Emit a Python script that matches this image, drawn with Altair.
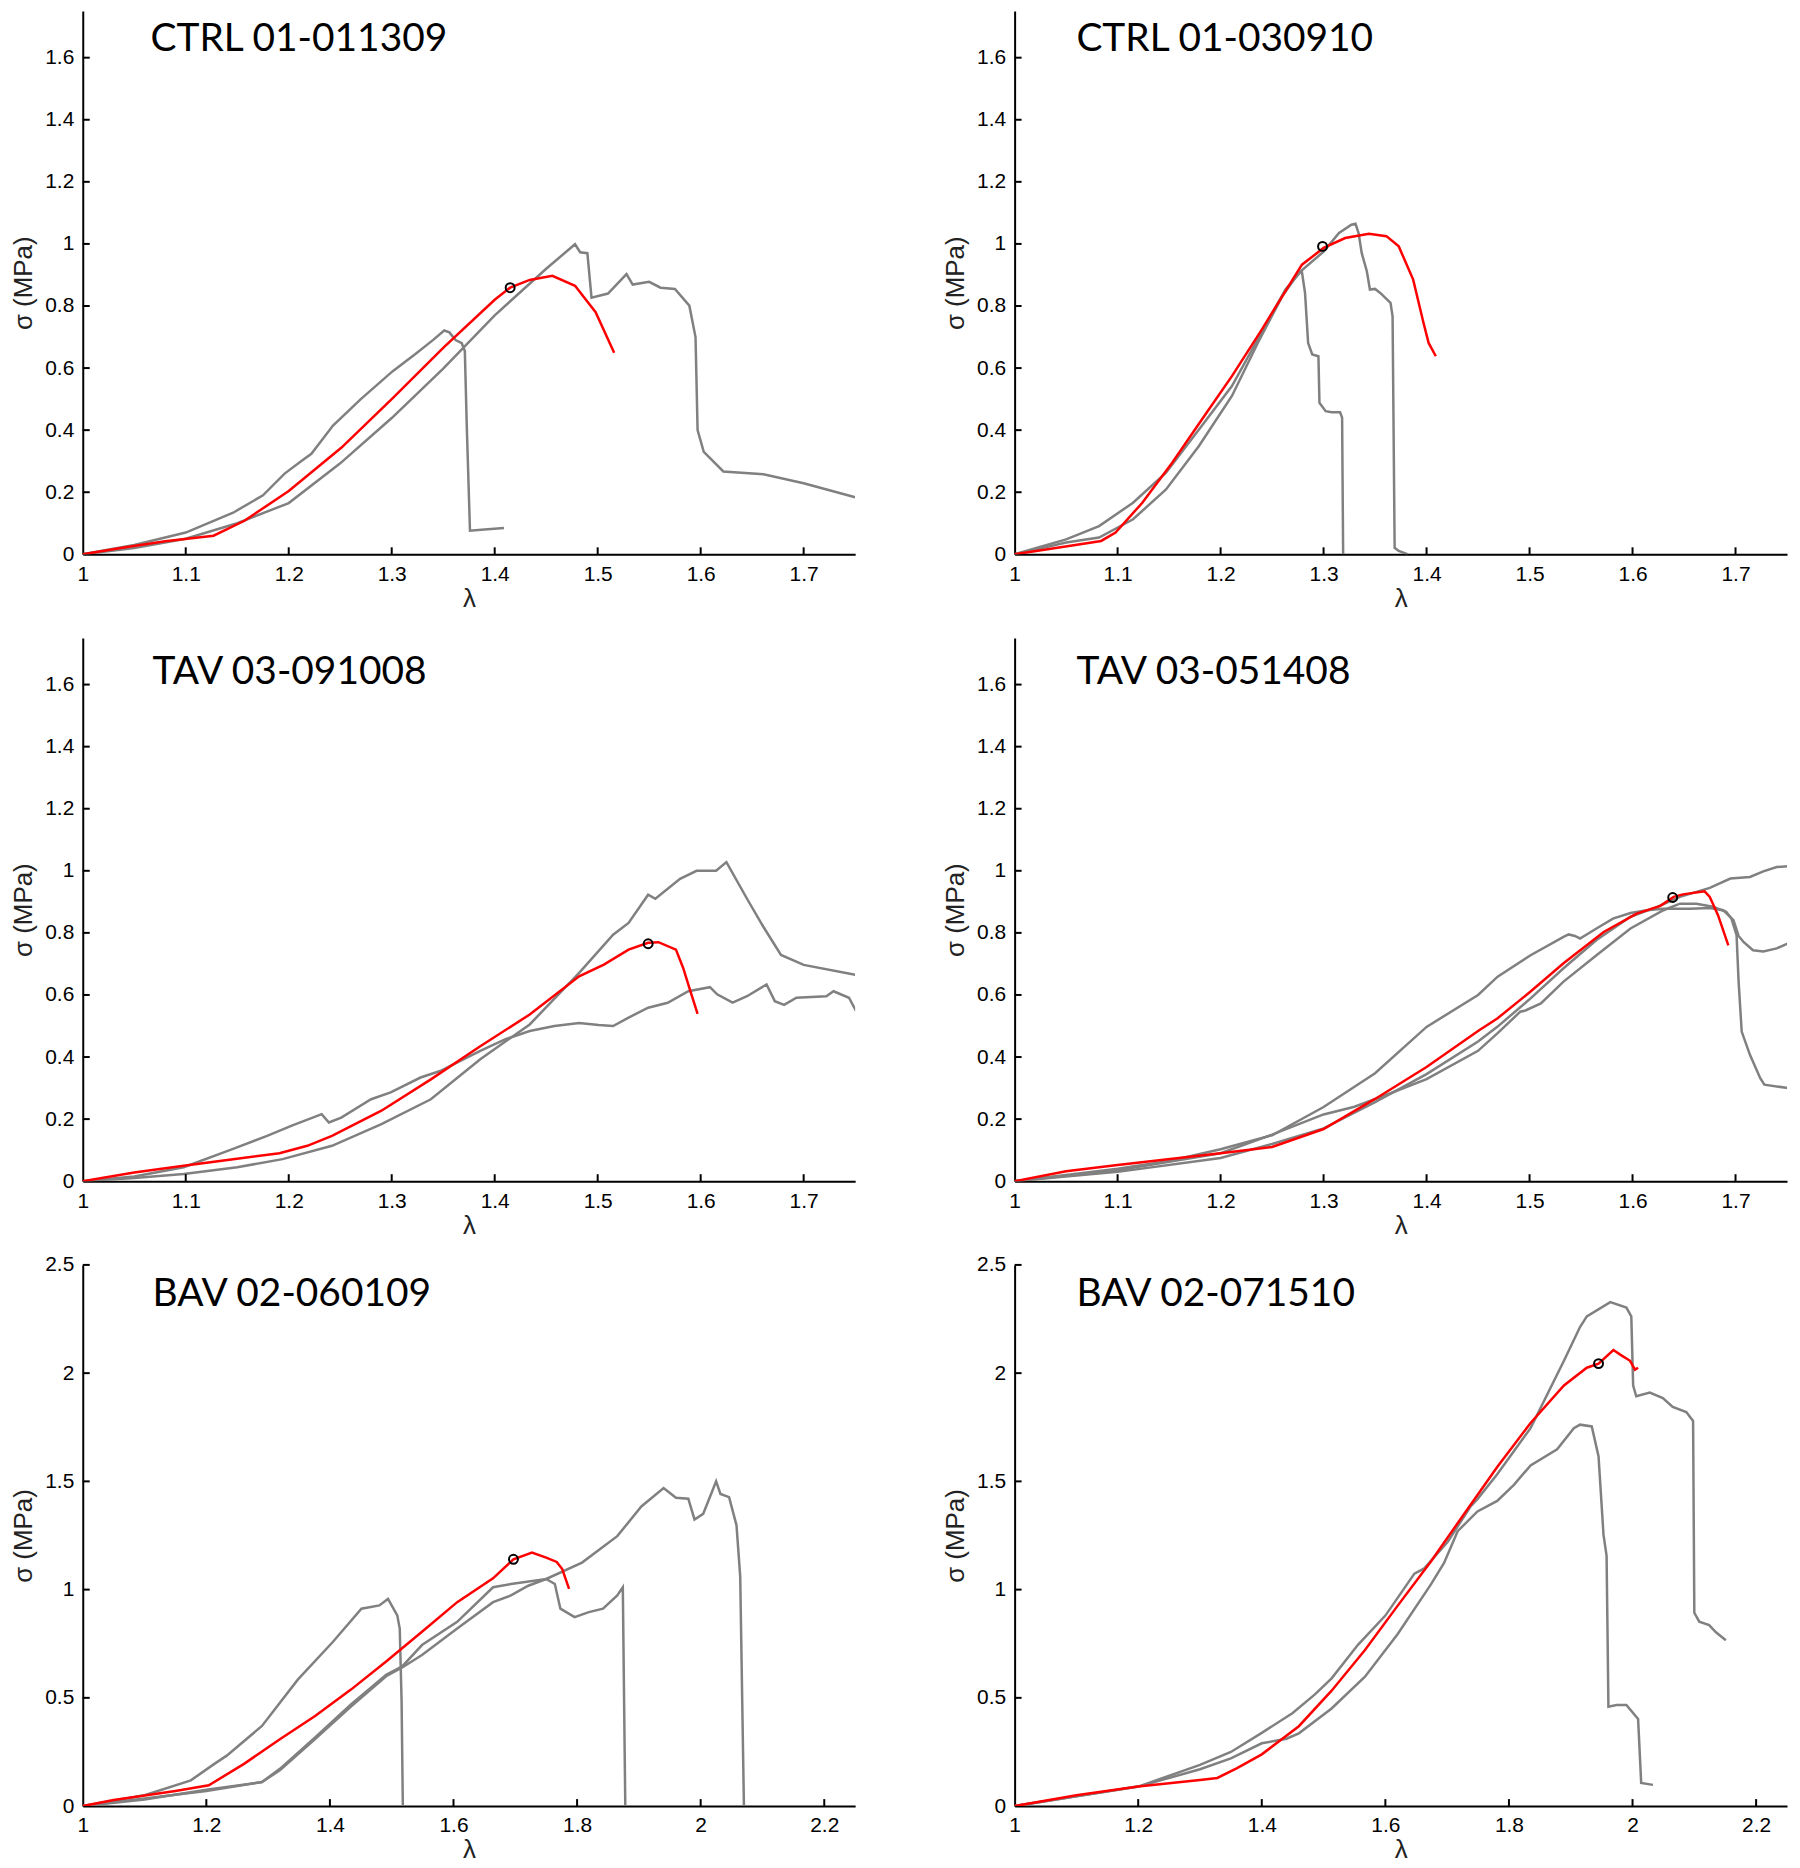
import altair as alt
import pandas as pd

# ---------------- data ----------------
TITLES = ["CTRL 01-011309", "CTRL 01-030910", "TAV 03-091008",
          "TAV 03-051408", "BAV 02-060109", "BAV 02-071510"]

X_TICKS_A = [1.0, 1.1, 1.2, 1.3, 1.4, 1.5, 1.6, 1.7]
Y_TICKS_A = [0.0, 0.2, 0.4, 0.6, 0.8, 1.0, 1.2, 1.4, 1.6]
X_TICKS_B = [1.0, 1.2, 1.4, 1.6, 1.8, 2.0, 2.2]
Y_TICKS_B = [0.0, 0.5, 1.0, 1.5, 2.0, 2.5]

# Panel 1: CTRL 01-011309
P1_RED_X = [1.0, 1.04, 1.08, 1.127, 1.157, 1.2, 1.251, 1.301, 1.351, 1.40, 1.415, 1.434, 1.456, 1.478, 1.498, 1.516]
P1_RED_Y = [0.0, 0.022, 0.042, 0.06, 0.108, 0.204, 0.343, 0.503, 0.668, 0.82, 0.859, 0.884, 0.897, 0.865, 0.78, 0.649]
P1_PT = [1.415, 0.859]
P1_G1_X = [1.0, 1.05, 1.1, 1.146, 1.175, 1.196, 1.212, 1.222, 1.243, 1.27, 1.301, 1.323, 1.34, 1.351, 1.356, 1.362, 1.368, 1.371, 1.373, 1.376, 1.39, 1.409]
P1_G1_Y = [0.0, 0.03, 0.07, 0.134, 0.19, 0.26, 0.30, 0.324, 0.415, 0.50, 0.59, 0.645, 0.69, 0.721, 0.715, 0.69, 0.68, 0.655, 0.40, 0.076, 0.08, 0.085]
P1_G2_X = [1.0, 1.05, 1.1, 1.15, 1.2, 1.25, 1.3, 1.35, 1.4, 1.45, 1.478, 1.483, 1.49, 1.494, 1.51, 1.528, 1.534, 1.55, 1.561, 1.575, 1.589, 1.595, 1.597, 1.603, 1.622, 1.661, 1.7, 1.75]
P1_G2_Y = [0.0, 0.02, 0.05, 0.10, 0.165, 0.293, 0.439, 0.598, 0.77, 0.92, 0.999, 0.973, 0.97, 0.827, 0.84, 0.903, 0.869, 0.878, 0.859, 0.855, 0.801, 0.70, 0.40, 0.33, 0.267, 0.258, 0.229, 0.184]

# Panel 2: CTRL 01-030910
P2_RED_X = [1.0, 1.04, 1.084, 1.098, 1.124, 1.153, 1.182, 1.211, 1.24, 1.26, 1.279, 1.3, 1.321, 1.344, 1.361, 1.373, 1.387, 1.397, 1.402, 1.409]
P2_RED_Y = [0.0, 0.02, 0.043, 0.07, 0.166, 0.295, 0.435, 0.574, 0.724, 0.832, 0.933, 0.987, 1.019, 1.033, 1.025, 0.992, 0.885, 0.746, 0.681, 0.638]
P2_PT = [1.299, 0.992]
P2_G1_X = [1.0, 1.05, 1.082, 1.115, 1.147, 1.179, 1.211, 1.244, 1.263, 1.277, 1.279, 1.282, 1.285, 1.289, 1.295, 1.296, 1.302, 1.308, 1.316, 1.318, 1.319]
P2_G1_Y = [0.0, 0.048, 0.091, 0.166, 0.263, 0.402, 0.542, 0.74, 0.853, 0.907, 0.909, 0.842, 0.681, 0.644, 0.638, 0.488, 0.461, 0.458, 0.458, 0.44, 0.0]
P2_G2_X = [1.0, 1.05, 1.082, 1.115, 1.147, 1.179, 1.211, 1.236, 1.26, 1.276, 1.3, 1.315, 1.327, 1.331, 1.334, 1.337, 1.342, 1.345, 1.35, 1.355, 1.365, 1.367, 1.369, 1.373, 1.382]
P2_G2_Y = [0.0, 0.038, 0.054, 0.113, 0.209, 0.349, 0.51, 0.68, 0.832, 0.907, 0.975, 1.035, 1.062, 1.065, 1.035, 0.971, 0.912, 0.853, 0.855, 0.842, 0.81, 0.767, 0.021, 0.011, 0.0]

# Panel 3: TAV 03-091008
P3_RED_X = [1.0, 1.05, 1.098, 1.146, 1.191, 1.218, 1.242, 1.29, 1.338, 1.386, 1.434, 1.482, 1.506, 1.53, 1.549, 1.559, 1.576, 1.583, 1.59, 1.597]
P3_RED_Y = [0.0, 0.028, 0.05, 0.071, 0.09, 0.114, 0.146, 0.227, 0.328, 0.435, 0.537, 0.66, 0.698, 0.746, 0.768, 0.77, 0.746, 0.687, 0.612, 0.539]
P3_PT = [1.549, 0.765]
P3_G1_X = [1.0, 1.05, 1.098, 1.146, 1.179, 1.203, 1.232, 1.239, 1.251, 1.28, 1.299, 1.328, 1.347, 1.386, 1.41, 1.434, 1.458, 1.482, 1.501, 1.515, 1.53, 1.549, 1.568, 1.588, 1.609, 1.616, 1.631, 1.645, 1.664, 1.672, 1.681, 1.693, 1.722, 1.729, 1.744, 1.751]
P3_G1_Y = [0.0, 0.015, 0.045, 0.104, 0.146, 0.179, 0.216, 0.189, 0.205, 0.264, 0.286, 0.334, 0.355, 0.42, 0.457, 0.484, 0.5, 0.51, 0.503, 0.5, 0.527, 0.559, 0.575, 0.612, 0.625, 0.602, 0.575, 0.596, 0.634, 0.58, 0.568, 0.591, 0.596, 0.612, 0.591, 0.548]
P3_G2_X = [1.0, 1.05, 1.098, 1.15, 1.194, 1.242, 1.29, 1.338, 1.386, 1.434, 1.482, 1.515, 1.53, 1.549, 1.556, 1.58, 1.596, 1.615, 1.625, 1.645, 1.661, 1.678, 1.7, 1.75]
P3_G2_Y = [0.0, 0.01, 0.023, 0.045, 0.071, 0.114, 0.184, 0.264, 0.393, 0.505, 0.671, 0.794, 0.832, 0.923, 0.91, 0.974, 1.0, 1.0, 1.028, 0.91, 0.819, 0.729, 0.697, 0.665]

# Panel 4: TAV 03-051408
P4_RED_X = [1.0, 1.05, 1.1, 1.2, 1.25, 1.3, 1.35, 1.4, 1.45, 1.469, 1.501, 1.533, 1.572, 1.604, 1.627, 1.64, 1.649, 1.67, 1.675, 1.683, 1.693]
P4_RED_Y = [0.0, 0.032, 0.052, 0.09, 0.11, 0.168, 0.265, 0.368, 0.484, 0.525, 0.611, 0.702, 0.803, 0.862, 0.887, 0.916, 0.924, 0.934, 0.916, 0.857, 0.76]
P4_PT = [1.639, 0.914]
P4_G1_X = [1.0, 1.1, 1.15, 1.2, 1.25, 1.3, 1.35, 1.4, 1.45, 1.469, 1.501, 1.533, 1.538, 1.544, 1.549, 1.565, 1.581, 1.598, 1.614, 1.63, 1.656, 1.675, 1.688, 1.698, 1.703, 1.708, 1.717, 1.727, 1.74, 1.751]
P4_G1_Y = [0.0, 0.04, 0.065, 0.103, 0.148, 0.239, 0.348, 0.497, 0.6, 0.659, 0.728, 0.787, 0.795, 0.79, 0.782, 0.814, 0.846, 0.864, 0.873, 0.878, 0.878, 0.88, 0.873, 0.841, 0.79, 0.77, 0.744, 0.74, 0.75, 0.766]
P4_G2_X = [1.0, 1.1, 1.2, 1.25, 1.3, 1.35, 1.4, 1.45, 1.469, 1.501, 1.533, 1.565, 1.598, 1.624, 1.646, 1.662, 1.675, 1.695, 1.714, 1.727, 1.74, 1.751]
P4_G2_Y = [0.0, 0.03, 0.075, 0.12, 0.17, 0.255, 0.345, 0.45, 0.498, 0.589, 0.686, 0.777, 0.852, 0.884, 0.916, 0.932, 0.945, 0.975, 0.98, 0.998, 1.012, 1.015]
P4_G3_X = [1.0, 1.1, 1.2, 1.25, 1.3, 1.33, 1.36, 1.4, 1.45, 1.469, 1.491, 1.496, 1.511, 1.533, 1.565, 1.598, 1.63, 1.646, 1.662, 1.678, 1.691, 1.696, 1.701, 1.703, 1.706, 1.714, 1.724, 1.728, 1.751]
P4_G3_Y = [0.0, 0.035, 0.09, 0.15, 0.215, 0.24, 0.277, 0.329, 0.42, 0.477, 0.546, 0.55, 0.573, 0.643, 0.728, 0.814, 0.873, 0.894, 0.894, 0.884, 0.868, 0.846, 0.793, 0.643, 0.482, 0.407, 0.332, 0.311, 0.3]

# Panel 5: BAV 02-060109
P5_RED_X = [1.0, 1.05, 1.1, 1.15, 1.204, 1.261, 1.319, 1.376, 1.434, 1.491, 1.549, 1.606, 1.664, 1.697, 1.727, 1.75, 1.767, 1.776, 1.787]
P5_RED_Y = [0.0, 0.028, 0.049, 0.07, 0.096, 0.195, 0.309, 0.416, 0.538, 0.668, 0.805, 0.942, 1.052, 1.14, 1.171, 1.148, 1.128, 1.095, 1.003]
P5_PT = [1.697, 1.14]
P5_G1_X = [1.0, 1.05, 1.1, 1.175, 1.213, 1.233, 1.29, 1.348, 1.405, 1.451, 1.48, 1.494, 1.509, 1.513, 1.516, 1.518]
P5_G1_Y = [0.0, 0.025, 0.05, 0.119, 0.195, 0.233, 0.37, 0.584, 0.759, 0.912, 0.927, 0.957, 0.881, 0.82, 0.485, 0.0]
P5_G2_X = [1.0, 1.1, 1.2, 1.29, 1.319, 1.376, 1.434, 1.491, 1.517, 1.549, 1.606, 1.664, 1.693, 1.721, 1.75, 1.808, 1.865, 1.904, 1.94, 1.96, 1.98, 1.99, 2.004, 2.018, 2.025, 2.032, 2.046, 2.058, 2.064, 2.07]
P5_G2_Y = [0.0, 0.035, 0.07, 0.111, 0.165, 0.31, 0.46, 0.6, 0.64, 0.698, 0.82, 0.942, 0.973, 1.018, 1.049, 1.125, 1.247, 1.384, 1.469, 1.424, 1.42, 1.324, 1.35, 1.45, 1.5, 1.442, 1.427, 1.297, 1.06, 0.0]
P5_G3_X = [1.0, 1.1, 1.2, 1.29, 1.319, 1.376, 1.434, 1.491, 1.517, 1.549, 1.606, 1.664, 1.693, 1.75, 1.764, 1.773, 1.796, 1.819, 1.842, 1.865, 1.874, 1.878]
P5_G3_Y = [0.0, 0.03, 0.075, 0.111, 0.172, 0.317, 0.47, 0.607, 0.645, 0.744, 0.851, 1.011, 1.026, 1.049, 1.026, 0.912, 0.873, 0.896, 0.912, 0.973, 1.011, 0.0]

# Panel 6: BAV 02-071510
P6_RED_X = [1.0, 1.1, 1.2, 1.3, 1.328, 1.36, 1.4, 1.46, 1.513, 1.567, 1.62, 1.674, 1.728, 1.781, 1.835, 1.889, 1.926, 1.945, 1.969, 1.982, 1.996, 2.004, 2.009]
P6_RED_Y = [0.0, 0.05, 0.09, 0.121, 0.13, 0.175, 0.239, 0.369, 0.533, 0.721, 0.926, 1.131, 1.352, 1.566, 1.77, 1.943, 2.025, 2.044, 2.107, 2.082, 2.057, 2.016, 2.025]
P6_PT = [1.945, 2.044]
P6_G1_X = [1.0, 1.1, 1.2, 1.3, 1.35, 1.4, 1.45, 1.486, 1.513, 1.556, 1.6, 1.647, 1.663, 1.701, 1.738, 1.749, 1.781, 1.835, 1.889, 1.915, 1.926, 1.964, 1.99, 1.998, 2.001, 2.006, 2.028, 2.049, 2.065, 2.087, 2.098, 2.1, 2.108, 2.124, 2.135, 2.151]
P6_G1_Y = [0.0, 0.045, 0.09, 0.19, 0.25, 0.338, 0.43, 0.516, 0.59, 0.746, 0.88, 1.074, 1.098, 1.221, 1.385, 1.418, 1.533, 1.746, 2.057, 2.213, 2.262, 2.328, 2.303, 2.262, 1.943, 1.893, 1.91, 1.885, 1.844, 1.82, 1.779, 0.893, 0.852, 0.836, 0.803, 0.766]
P6_G2_X = [1.0, 1.1, 1.2, 1.3, 1.35, 1.4, 1.44, 1.46, 1.513, 1.567, 1.62, 1.674, 1.695, 1.717, 1.749, 1.781, 1.808, 1.835, 1.878, 1.905, 1.915, 1.934, 1.945, 1.953, 1.958, 1.961, 1.974, 1.99, 2.009, 2.014, 2.033]
P6_G2_Y = [0.0, 0.045, 0.09, 0.17, 0.22, 0.29, 0.311, 0.336, 0.451, 0.598, 0.795, 1.025, 1.123, 1.27, 1.361, 1.41, 1.484, 1.574, 1.648, 1.746, 1.762, 1.754, 1.615, 1.254, 1.156, 0.459, 0.467, 0.467, 0.402, 0.107, 0.098]

# ---------------- style ----------------
W = 775
GRAY = "#808080"
RED = "#ff0000"
AXIS_COLOR = "#000000"
LABEL_FONT = "Liberation Sans"
TEXT_FONT = "Liberation Sans"
TITLE_FONT = "Lato"


def panel(title, grays, red, pt, xdom, ydom, xticks, yticks, h, tdx, tdy):
    rows = []
    for k, (gx, gy) in enumerate(grays):
        for i, (a, b) in enumerate(zip(gx, gy)):
            rows.append({"lam": a, "sig": b, "s": f"g{k}", "i": i})
    gdf = pd.DataFrame(rows)
    rdf = pd.DataFrame({"lam": red[0], "sig": red[1], "i": list(range(len(red[0])))})
    cdf = pd.DataFrame({"lam": [pt[0]], "sig": [pt[1]]})
    xt = pd.DataFrame({"v": xticks[1:]})
    yt = pd.DataFrame({"v": yticks[1:]})
    one = pd.DataFrame({"a": [0]})

    xs = alt.Scale(domain=xdom, nice=False, zero=False)
    ys = alt.Scale(domain=ydom, nice=False, zero=False)
    xax = alt.Axis(values=xticks, format=".1~f", title="λ", labelFlush=False,
                   labelOverlap=False, titleX=W / 2, titleY=44,
                   titleAlign="center", titleBaseline="middle")
    yax = alt.Axis(values=yticks, format=".1~f", title="σ (MPa)",
                   labelOverlap=False, titleX=-59, titleY=h / 2, titleAngle=270,
                   titleAlign="center", titleBaseline="middle")

    def X(f):
        return alt.X(f, type="quantitative", scale=xs, axis=xax)

    def Y(f):
        return alt.Y(f, type="quantitative", scale=ys, axis=yax)

    g = alt.Chart(gdf).mark_line(color=GRAY, strokeWidth=2.5, clip=True).encode(
        x=X("lam"), y=Y("sig"), detail="s:N", order="i:Q")
    r = alt.Chart(rdf).mark_line(color=RED, strokeWidth=2.5, clip=True).encode(
        x=X("lam"), y=Y("sig"), order="i:Q")
    c = alt.Chart(cdf).mark_point(shape="circle", filled=False, color="#000000",
                                  size=80, strokeWidth=2, opacity=1).encode(
        x=X("lam"), y=Y("sig"))
    t = alt.Chart(one).mark_text(text=title, font=TITLE_FONT, fontSize=39,
                                 align="left", baseline="alphabetic",
                                 color="#000000").encode(
        x=alt.value(tdx), y=alt.value(tdy))
    xtk = alt.Chart(xt).mark_rule(color=AXIS_COLOR, strokeWidth=2).encode(
        x=X("v"), y=alt.value(h), y2=alt.value(h - 7))
    ytk = alt.Chart(yt).mark_rule(color=AXIS_COLOR, strokeWidth=2).encode(
        y=Y("v"), x=alt.value(0), x2=alt.value(7))
    return alt.layer(g, r, c, t, xtk, ytk).properties(width=W, height=h)


H1 = 545
H3 = 543
panels = [
    panel(TITLES[0], [(P1_G1_X, P1_G1_Y), (P1_G2_X, P1_G2_Y)], (P1_RED_X, P1_RED_Y), P1_PT,
          [1, 1.75], [0, 1.75], X_TICKS_A, Y_TICKS_A, H1, 68, 40),
    panel(TITLES[1], [(P2_G1_X, P2_G1_Y), (P2_G2_X, P2_G2_Y)], (P2_RED_X, P2_RED_Y), P2_PT,
          [1, 1.75], [0, 1.75], X_TICKS_A, Y_TICKS_A, H1, 62, 40),
    panel(TITLES[2], [(P3_G1_X, P3_G1_Y), (P3_G2_X, P3_G2_Y)], (P3_RED_X, P3_RED_Y), P3_PT,
          [1, 1.75], [0, 1.75], X_TICKS_A, Y_TICKS_A, H1, 70, 46),
    panel(TITLES[3], [(P4_G1_X, P4_G1_Y), (P4_G2_X, P4_G2_Y), (P4_G3_X, P4_G3_Y)],
          (P4_RED_X, P4_RED_Y), P4_PT,
          [1, 1.75], [0, 1.75], X_TICKS_A, Y_TICKS_A, H1, 62, 46),
    panel(TITLES[4], [(P5_G1_X, P5_G1_Y), (P5_G2_X, P5_G2_Y), (P5_G3_X, P5_G3_Y)],
          (P5_RED_X, P5_RED_Y), P5_PT,
          [1, 2.25], [0, 2.5], X_TICKS_B, Y_TICKS_B, H3, 70, 41),
    panel(TITLES[5], [(P6_G1_X, P6_G1_Y), (P6_G2_X, P6_G2_Y)], (P6_RED_X, P6_RED_Y), P6_PT,
          [1, 2.25], [0, 2.5], X_TICKS_B, Y_TICKS_B, H3, 62, 41),
]

chart = alt.concat(*panels, columns=2, spacing={"row": 84, "column": 160},
                   bounds="flush").properties(
    padding={"left": 3, "top": 0, "right": 5, "bottom": 5}
).configure_view(strokeWidth=0).configure_axis(
    domain=True, domainColor=AXIS_COLOR, domainWidth=2, ticks=False, grid=False,
    labelFont=LABEL_FONT, labelFontSize=21, labelColor="#000000", labelPadding=9,
    titleFont=TEXT_FONT, titleFontSize=26, titleFontWeight="normal", titleColor="#222222"
)

chart.save("out.html", embed_options={"renderer": "svg", "actions": False})
